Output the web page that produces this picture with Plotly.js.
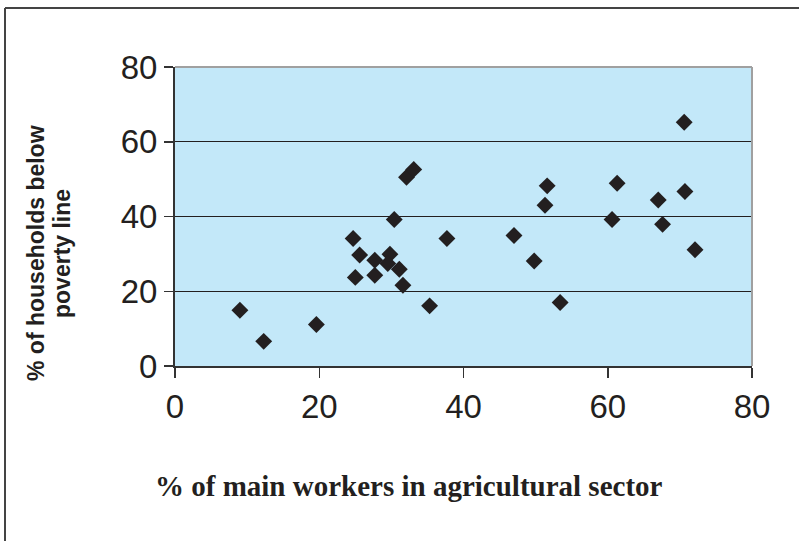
<!DOCTYPE html>
<html>
<head>
<meta charset="utf-8">
<script src="https://cdn.plot.ly/plotly-3.0.1.min.js"></script>
<style>html,body{margin:0;padding:0;background:#fff;}#chart{width:799px;height:541px;}</style>
</head>
<body>
<div id="chart"></div>
<script>
// % of main workers in agricultural sector
const agriWorkers = [9.0, 12.3, 19.6, 24.7, 25.6, 25.0, 27.7, 27.7, 29.8, 29.5, 31.1, 31.6, 30.4, 32.1, 33.1, 35.3, 37.7,
                     47.0, 49.8, 51.6, 51.3, 53.4, 61.3, 60.6, 67.0, 67.6, 70.6, 70.7, 72.1];
// % of households below poverty line
const belowPoverty = [14.9, 6.6, 11.1, 34.1, 29.7, 23.7, 28.3, 24.3, 29.9, 27.4, 25.9, 21.6, 39.2, 50.5, 52.6, 16.1, 34.1,
                      34.9, 28.1, 48.2, 43.0, 17.0, 48.9, 39.2, 44.4, 37.9, 65.2, 46.7, 31.1];
const tickValues = [0, 20, 40, 60, 80];
const xTitle = "% of main workers in agricultural sector";
const yTitleLines = ["% of households below", "poverty line"];

const trace = {
  type: 'scatter', mode: 'markers',
  x: agriWorkers, y: belowPoverty,
  marker: {symbol: 'diamond', size: 13, color: '#231f20', line: {width: 0}},
  hoverinfo: 'x+y'
};

const tickFont = {family: 'Liberation Sans, Arial, sans-serif', size: 33, color: '#231f20'};
const yTitleFont = {family: 'Liberation Sans, Arial, sans-serif', size: 23, color: '#231f20', weight: 'bold'};
const layout = {
  width: 799, height: 541,
  margin: {l: 175, r: 47, t: 67, b: 175, pad: 0},
  paper_bgcolor: '#ffffff', plot_bgcolor: '#c3e8f9',
  showlegend: false,
  xaxis: {
    range: [0, 80], tickvals: tickValues, ticktext: tickValues.map(String),
    showgrid: false, zeroline: false,
    showline: true, linecolor: '#333333', linewidth: 2,
    ticks: 'outside', ticklen: 10, tickwidth: 1.5, tickcolor: '#333333',
    tickfont: tickFont, fixedrange: true
  },
  yaxis: {
    range: [0, 80], tickvals: tickValues, ticktext: tickValues.map(String),
    showgrid: true, gridcolor: '#231f20', gridwidth: 1, zeroline: false,
    showline: true, linecolor: '#333333', linewidth: 2,
    ticks: 'outside', ticklen: 9, tickwidth: 1.5, tickcolor: '#333333',
    tickfont: tickFont, fixedrange: true
  },
  shapes: [
    // plot-area top and right border (gray)
    {type: 'line', xref: 'paper', yref: 'paper', x0: 0, x1: 1, y0: 1, y1: 1, line: {color: '#a0a0a0', width: 2}, layer: 'above'},
    {type: 'line', xref: 'paper', yref: 'paper', x0: 1, x1: 1, y0: 0, y1: 1, line: {color: '#a0a0a0', width: 2}, layer: 'above'},
    // outer frame (left and top)
    {type: 'line', xref: 'paper', yref: 'paper', x0: -170/577, x1: 2, y0: (366-8)/299, y1: (366-8)/299, line: {color: '#444444', width: 2}},
    {type: 'line', xref: 'paper', yref: 'paper', x0: -170/577, x1: -170/577, y0: (366-8)/299, y1: -2, line: {color: '#444444', width: 2}}
  ],
  annotations: [
    {text: xTitle, xref: 'paper', yref: 'paper', x: (409-175)/577, y: (366-486)/299,
     xanchor: 'center', yanchor: 'middle', showarrow: false,
     font: {family: 'Liberation Serif, Times New Roman, serif', size: 29, color: '#231f20', weight: 'bold'}},
    {text: yTitleLines[0], xref: 'paper', yref: 'paper', x: (36-175)/577, y: (366-253)/299,
     xanchor: 'center', yanchor: 'middle', showarrow: false, textangle: -90, font: yTitleFont},
    {text: yTitleLines[1], xref: 'paper', yref: 'paper', x: (62-175)/577, y: (366-253)/299,
     xanchor: 'center', yanchor: 'middle', showarrow: false, textangle: -90, font: yTitleFont}
  ]
};

Plotly.newPlot('chart', [trace], layout, {displayModeBar: false, staticPlot: true});
</script>
</body>
</html>
